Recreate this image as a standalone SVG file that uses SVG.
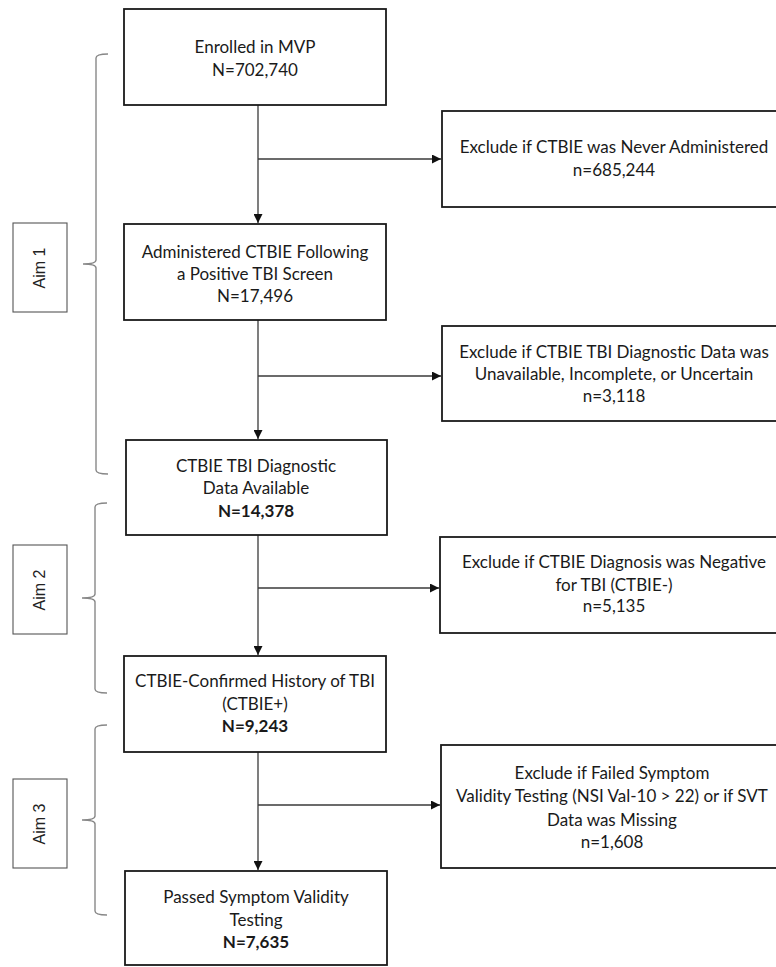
<svg xmlns="http://www.w3.org/2000/svg" width="776" height="967" viewBox="0 0 776 967">
<style>
.box{fill:#fff;stroke:#1a1a1a;stroke-width:1.8}
.aim{fill:#fff;stroke:#555;stroke-width:1.1}
.t{font-family:Lato,"Open Sans",sans-serif;font-size:17px;fill:#1a1a1a;text-anchor:middle}
.b{font-weight:bold}
.at{font-family:"Liberation Sans",Arial,sans-serif;font-size:16px;fill:#222;text-anchor:middle}
.ln{stroke:#3a3a3a;stroke-width:1.3;fill:none}
.br{stroke:#888;stroke-width:1.4;fill:none}
</style>
<defs>
<marker id="ah" viewBox="0 0 10 10" refX="10" refY="5" markerWidth="9" markerHeight="9" markerUnits="userSpaceOnUse" orient="auto">
<path d="M0,0 L10,5 L0,10 Z" fill="#111"/>
</marker>
</defs>
<rect width="776" height="967" fill="#fff"/>
<g id="connectors">
<line class="ln" x1="258" y1="105" x2="258" y2="223" marker-end="url(#ah)"/>
<line class="ln" x1="258" y1="159" x2="441" y2="159" marker-end="url(#ah)"/>
<line class="ln" x1="258" y1="320" x2="258" y2="439" marker-end="url(#ah)"/>
<line class="ln" x1="258" y1="376" x2="441" y2="376" marker-end="url(#ah)"/>
<line class="ln" x1="258" y1="535" x2="258" y2="655" marker-end="url(#ah)"/>
<line class="ln" x1="258" y1="588" x2="439" y2="588" marker-end="url(#ah)"/>
<line class="ln" x1="258" y1="752" x2="258" y2="870" marker-end="url(#ah)"/>
<line class="ln" x1="258" y1="805" x2="440" y2="805" marker-end="url(#ah)"/>
</g>
<g id="brackets">
<path class="br" d="M108,54 C100,54 96,55 96,58 L96,260 C96,263 92,264 83,264 C92,264 96,265 96,268 L96,470 C96,473 100,474 108,474"/>
<path class="br" d="M107,503 C99,503 95,504 95,507 L95,594 C95,597 91,598 82,598 C91,598 95,599 95,602 L95,689 C95,692 99,693 107,693"/>
<path class="br" d="M107,725 C99,725 95,726 95,729 L95,816 C95,819 91,820 82,820 C91,820 95,821 95,824 L95,911 C95,914 99,915 107,915"/>
</g>
<g id="aim1"><rect class="aim" x="13" y="223" width="54" height="89"/><text class="at" transform="translate(45,268) rotate(-90)">Aim 1</text></g>
<g id="aim2"><rect class="aim" x="13" y="545" width="54" height="89"/><text class="at" transform="translate(45,590) rotate(-90)">Aim 2</text></g>
<g id="aim3"><rect class="aim" x="13" y="779" width="54" height="89"/><text class="at" transform="translate(45,824) rotate(-90)">Aim 3</text></g>
<g id="enrolled"><rect class="box" x="124" y="9" width="262" height="96"/>
<text class="t" x="255" y="53">Enrolled in MVP</text><text class="t" x="255" y="76">N=702,740</text></g>
<g id="excl1"><rect class="box" x="442" y="111" width="344" height="96"/>
<text class="t" x="614" y="153">Exclude if CTBIE was Never Administered</text><text class="t" x="614" y="176">n=685,244</text></g>
<g id="administered"><rect class="box" x="124" y="224" width="262" height="96"/>
<text class="t" x="255" y="258">Administered CTBIE Following</text><text class="t" x="255" y="280">a Positive TBI Screen</text><text class="t" x="255" y="302">N=17,496</text></g>
<g id="excl2"><rect class="box" x="442" y="326" width="344" height="95"/>
<text class="t" x="614" y="358">Exclude if CTBIE TBI Diagnostic Data was</text><text class="t" x="614" y="380">Unavailable, Incomplete, or Uncertain</text><text class="t" x="614" y="402">n=3,118</text></g>
<g id="available"><rect class="box" x="126" y="440" width="261" height="95"/>
<text class="t" x="256" y="472">CTBIE TBI Diagnostic</text><text class="t" x="256" y="494">Data Available</text><text class="t b" x="256" y="517">N=14,378</text></g>
<g id="excl3"><rect class="box" x="440" y="537" width="346" height="96"/>
<text class="t" x="614" y="568">Exclude if CTBIE Diagnosis was Negative</text><text class="t" x="614" y="591">for TBI (CTBIE-)</text><text class="t" x="614" y="612">n=5,135</text></g>
<g id="confirmed"><rect class="box" x="124" y="656" width="262" height="96"/>
<text class="t" x="255" y="687">CTBIE-Confirmed History of TBI</text><text class="t" x="255" y="710">(CTBIE+)</text><text class="t b" x="255" y="732">N=9,243</text></g>
<g id="excl4"><rect class="box" x="441" y="745" width="345" height="123"/>
<text class="t" x="612" y="779">Exclude if Failed Symptom</text><text class="t" x="612" y="802">Validity Testing (NSI Val-10 &gt; 22) or if SVT</text><text class="t" x="612" y="826">Data was Missing</text><text class="t" x="612" y="848">n=1,608</text></g>
<g id="passed"><rect class="box" x="125" y="871" width="262" height="94"/>
<text class="t" x="256" y="903">Passed Symptom Validity</text><text class="t" x="256" y="926">Testing</text><text class="t b" x="256" y="948">N=7,635</text></g>
</svg>
